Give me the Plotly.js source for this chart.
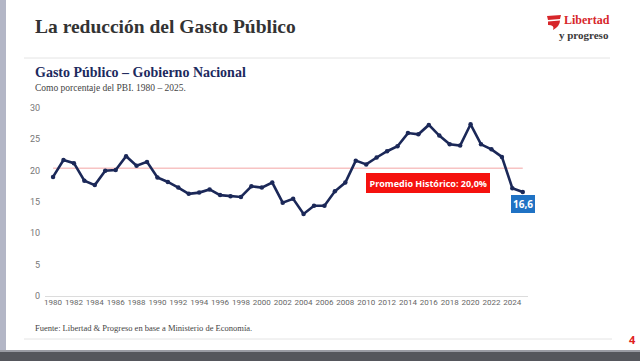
<!DOCTYPE html>
<html>
<head>
<meta charset="utf-8">
<script src="https://cdn.plot.ly/plotly-3.0.1.min.js"></script>
<style>
html,body{margin:0;padding:0;background:#fff;}
#chart{width:640px;height:361px;}
</style>
</head>
<body>
<div id="chart"></div>
<script>
// ---- Data ----
const years = [1980,1981,1982,1983,1984,1985,1986,1987,1988,1989,
               1990,1991,1992,1993,1994,1995,1996,1997,1998,1999,
               2000,2001,2002,2003,2004,2005,2006,2007,2008,2009,
               2010,2011,2012,2013,2014,2015,2016,2017,2018,2019,
               2020,2021,2022,2023,2024,2025];
const gasto = [19.0,21.7,21.2,18.4,17.7,20.0,20.1,22.3,20.8,21.4,
               18.9,18.2,17.3,16.3,16.5,17.0,16.1,15.9,15.8,17.5,
               17.3,18.1,14.9,15.5,13.1,14.4,14.4,16.7,18.1,21.6,
               21.0,22.1,23.1,23.9,26.0,25.8,27.3,25.6,24.2,24.0,
               27.4,24.2,23.4,22.2,17.2,16.6];
const promedioLinea = 20.4;           // drawn position of the historical-average line
const promedioTexto = "Promedio Histórico: 20,0%";
const xTicks = [1980,1982,1984,1986,1988,1990,1992,1994,1996,1998,2000,2002,2004,
                2006,2008,2010,2012,2014,2016,2018,2020,2022,2024];
const yTicks = [0,5,10,15,20,25,30];

// ---- Layout helpers (pixel -> paper) ----
const W = 640, H = 361, ML = 45, MR = 112, MT = 108, MB = 65;
const PW = W - ML - MR, PH = H - MT - MB;
const px = x => (x - ML) / PW;
const py = y => (H - MB - y) / PH;

const lastYear = years[years.length - 1];
const lastVal = gasto[gasto.length - 1];

const traces = [
  {
    x: [years[0], lastYear], y: [promedioLinea, promedioLinea],
    mode: 'lines', line: {color: '#f3a5a5', width: 1}, hoverinfo: 'skip', showlegend: false
  },
  {
    x: years, y: gasto, mode: 'lines+markers',
    line: {color: '#1b2858', width: 2.6},
    marker: {color: '#1b2858', size: 4.5},
    showlegend: false
  }
];

const serif = '"Liberation Serif", "Times New Roman", serif';
const sans = '"Open Sans", "Noto Sans", sans-serif';
const tickFam = 'Roboto, "Open Sans", sans-serif';

const annotations = [
  {xref:'paper', yref:'paper', x: px(33), y: py(27), xanchor:'left', yanchor:'middle', showarrow:false,
   text:'<b>La reducción del Gasto Público</b>', font:{family: serif, size: 19.5, color:'#333333'}},
  {xref:'paper', yref:'paper', x: px(33), y: py(72), xanchor:'left', yanchor:'middle', showarrow:false,
   text:'<b>Gasto Público – Gobierno Nacional</b>', font:{family: serif, size: 14, color:'#1c2a5e'}},
  {xref:'paper', yref:'paper', x: px(33), y: py(88), xanchor:'left', yanchor:'middle', showarrow:false,
   text:'Como porcentaje del PBI. 1980 – 2025.', font:{family: serif, size: 9.5, color:'#444444'}},
  {xref:'paper', yref:'paper', x: px(33), y: py(328), xanchor:'left', yanchor:'middle', showarrow:false,
   text:'Fuente: Libertad & Progreso en base a Ministerio de Economía.', font:{family: serif, size: 8.5, color:'#444444'}},
  {xref:'paper', yref:'paper', x: px(632), y: py(339), xanchor:'center', yanchor:'middle', showarrow:false,
   text:'<b>4</b>', font:{family: sans, size: 11, color:'#e02020'}},
  // logo text
  {xref:'paper', yref:'paper', x: px(562), y: py(20.5), xanchor:'left', yanchor:'middle', showarrow:false,
   text:'<b>Libertad</b>', font:{family: serif, size: 12, color:'#d7262a'}},
  {xref:'paper', yref:'paper', x: px(557), y: py(35.5), xanchor:'left', yanchor:'middle', showarrow:false,
   text:'<b>y progreso</b>', font:{family: serif, size: 11, color:'#3a3a3a'}},
  // average box
  {xref:'x', yref:'y', x: 2015.9, y: 18.0, xanchor:'center', yanchor:'middle', showarrow:false,
   text:'<b>' + promedioTexto + '</b>', font:{family: sans, size: 9, color:'#ffffff'},
   bgcolor:'#f5120e', borderpad: 3.5, borderwidth: 0},
  // last value label
  {xref:'x', yref:'y', x: lastYear, y: lastVal, xanchor:'center', yanchor:'top', yshift:-3, showarrow:false,
   text:'<b>' + lastVal.toFixed(1).replace('.', ',') + '</b>', font:{family: sans, size: 10, color:'#ffffff'},
   bgcolor:'#1f72c4', borderpad: 2, borderwidth: 0}
];

const shapes = [
  // left strip
  {type:'rect', xref:'paper', yref:'paper', x0: px(0), x1: px(6), y0: py(351), y1: py(0),
   fillcolor:'#b3b6c6', line:{width:0}, layer:'below'},
  // bottom bar
  {type:'rect', xref:'paper', yref:'paper', x0: px(0), x1: px(640), y0: py(361), y1: py(351),
   fillcolor:'#55565c', line:{width:0}, layer:'below'},
  {type:'rect', xref:'paper', yref:'paper', x0: px(0), x1: px(640), y0: py(352), y1: py(350),
   fillcolor:'#9a9ba3', line:{width:0}, layer:'below'},
  // separator lines
  {type:'line', xref:'paper', yref:'paper', x0: px(24), x1: px(610), y0: py(58), y1: py(58),
   line:{color:'#e4e4e4', width:1}},
  {type:'line', xref:'paper', yref:'paper', x0: px(24), x1: px(612), y0: py(339), y1: py(339),
   line:{color:'#e4e4e4', width:1}},
  // logo swoosh
  {type:'path', xref:'paper', yref:'paper',
   path: `M ${px(547)} ${py(16)} L ${px(561)} ${py(15)} L ${px(560)} ${py(19)} L ${px(548)} ${py(20)} Z`,
   fillcolor:'#d7262a', line:{width:0}},
  {type:'path', xref:'paper', yref:'paper',
   path: `M ${px(548)} ${py(21.5)} L ${px(560)} ${py(20.5)} Q ${px(560)} ${py(26)} ${px(553)} ${py(30)} Q ${px(555)} ${py(25)} ${px(548)} ${py(25)} Z`,
   fillcolor:'#d7262a', line:{width:0}}
];

const layout = {
  width: W, height: H,
  margin: {l: ML, r: MR, t: MT, b: MB, pad: 0},
  paper_bgcolor: '#ffffff', plot_bgcolor: '#ffffff',
  showlegend: false,
  xaxis: {
    range: [1979.23, 2025.5], tickvals: xTicks, ticktext: xTicks.map(String),
    showgrid: false, zeroline: false, showline: false, ticks: '',
    tickfont: {family: tickFam, size: 8, color: '#666666'}, tickangle: 0, automargin: false,
    fixedrange: true
  },
  yaxis: {
    range: [0, 30], tickvals: yTicks, ticktext: yTicks.map(String),
    showgrid: false, zeroline: true, zerolinecolor: '#dcdcdc', zerolinewidth: 1, showline: false, ticks: '',
    tickfont: {family: tickFam, size: 9, color: '#777777'}, automargin: false, ticklabelstandoff: 4,
    fixedrange: true
  },
  annotations: annotations,
  shapes: shapes
};

Plotly.newPlot('chart', traces, layout, {displayModeBar: false, staticPlot: true});
</script>
</body>
</html>
